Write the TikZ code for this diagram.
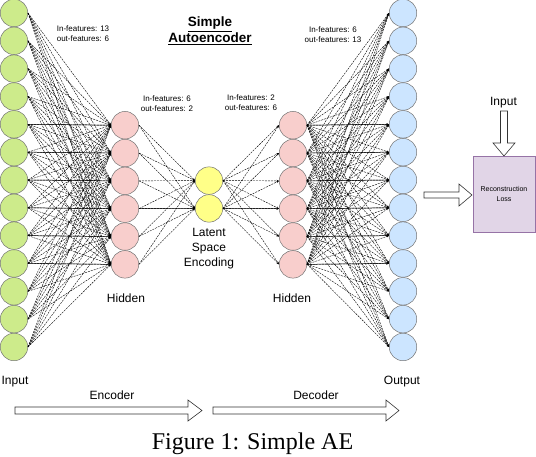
\documentclass[tikz,border=0pt]{standalone}
\usepackage{fontspec}
\setmainfont{Liberation Sans}
\newfontfamily\capfont{Liberation Serif}
\usetikzlibrary{arrows.meta}

\definecolor{ingreen}{HTML}{CDEB8B}
\definecolor{hidpink}{HTML}{F8CECC}
\definecolor{latyellow}{HTML}{FFFF88}
\definecolor{outblue}{HTML}{CCE5FF}
\definecolor{losspurple}{HTML}{E1D5E7}
\definecolor{lossborder}{HTML}{9673A6}

\tikzset{
  neuron/.style={circle, draw=black!55, line width=0.5pt, minimum size=27.5pt, inner sep=0pt},
  link/.style={line width=0.4pt, dash pattern=on 2pt off 1pt, -{Stealth[length=2.5pt,width=2pt]}},
  hlink/.style={line width=0.5pt, -{Stealth[length=2.5pt,width=2pt]}},
  lbl/.style={font=\fontsize{12}{15}\selectfont, align=center},
  feat/.style={font=\fontsize{8}{10}\selectfont, align=center},
  blockarrow/.style={draw=black!80, line width=0.6pt, fill=white}
}

\begin{document}
\begin{tikzpicture}[x=1pt,y=-1pt]
\useasboundingbox (0,0) rectangle (536,456);
% layers
\foreach \i in {1,...,13}
  \node[neuron, fill=ingreen] (in\i) at (14,{13+27.83*(\i-1)}){};
\foreach \i in {1,...,6}
  \node[neuron, fill=hidpink] (ha\i) at (125,{125.2+27.83*(\i-1)}){};
\node[neuron, fill=latyellow] (z1) at (209,180.6){};
\node[neuron, fill=latyellow] (z2) at (209,208.4){};
\foreach \i in {1,...,6}
  \node[neuron, fill=hidpink] (hb\i) at (293,{125.2+27.83*(\i-1)}){};
\foreach \i in {1,...,13}
  \node[neuron, fill=outblue] (out\i) at (403,{13+27.83*(\i-1)}){};
% links
\foreach \i in {1,...,13}
  \foreach \j in {1,...,6}
    \draw[link](in\i.east) -- (ha\j.west);
\foreach \i in {1,...,6}
  \foreach \j in {1,2}
    \draw[link](ha\i.east) -- (z\j.west);
\foreach \i in {1,2}
  \foreach \j in {1,...,6}
    \draw[link](z\i.east) -- (hb\j.west);
\foreach \i in {1,...,6}
  \foreach \j in {1,...,13}
    \draw[link](hb\i.east) -- (out\j.west);
\foreach \j in {1,...,6}{
  \pgfmathtruncatemacro\k{\j+4}
  \draw[hlink](in\k.east) -- (ha\j.west);
  \draw[hlink](hb\j.east) -- (out\k.west);
}
\draw[hlink](ha4.east) -- (z2.west);
\draw[hlink](z2.east) -- (hb4.west);
% texts
\node[font=\bfseries\fontsize{13.5}{16}\selectfont, align=center] (title) at (210,31) {\underline{Simple}\\\underline{Autoencoder}};
\node[feat] (feat1) at (83,34) {In-features: 13\\out-features: 6};
\node[feat] (feat2) at (167,104) {In-features: 6\\out-features: 2};
\node[feat] (feat3) at (251,103) {In-features: 2\\out-features: 6};
\node[feat] (feat4) at (333,35) {In-features: 6\\out-features: 13};
\node[lbl] (latent) at (209,249) {Latent\\Space\\Encoding};
\node[lbl] (hida) at (126,298) {Hidden};
\node[lbl] (hidb) at (292,298) {Hidden};
\node[lbl] (inlbl) at (15,382) {Input};
\node[lbl] (outlbl) at (402,382) {Output};
\node[lbl] (enc) at (112,395) {Encoder};
\node[lbl] (dec) at (316,395) {Decoder};
% loss
\node[draw=lossborder, fill=losspurple, line width=0.6pt, minimum width=62pt, minimum height=76pt, inner sep=0pt, font=\fontsize{7}{10}\selectfont, align=center] (loss) at (504,194) {Reconstruction\\Loss};
\node[lbl] (truth) at (503.5,103) {Input};
% block arrows
\draw[blockarrow] (15,407) -- (188,407) -- (188,400) -- (202,410.5) -- (188,421) -- (188,414) -- (15,414) -- cycle;
\draw[blockarrow] (213,407) -- (386,407) -- (386,400) -- (399,410.5) -- (386,421) -- (386,414) -- (213,414) -- cycle;
\draw[blockarrow] (424,192) -- (459,192) -- (459,184) -- (472,195) -- (459,206) -- (459,198) -- (424,198) -- cycle;
\draw[blockarrow] (500.5,111) -- (500.5,143) -- (493,143) -- (504,156) -- (515,143) -- (507.5,143) -- (507.5,111) -- cycle;
% caption
\node[font=\capfont\fontsize{24}{28}\selectfont, anchor=base] (cap) at (252.5,449.5) {Figure 1: Simple AE};
\end{tikzpicture}
\end{document}
